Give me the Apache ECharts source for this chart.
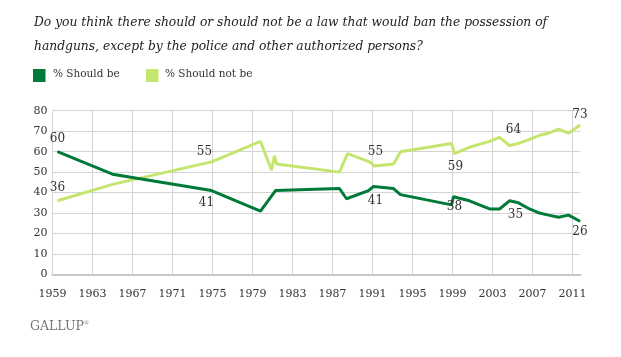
<!DOCTYPE html>
<html>
<head>
<meta charset="utf-8">
<script src="https://cdn.jsdelivr.net/npm/echarts@6/dist/echarts.min.js"></script>
<style>
html,body{margin:0;padding:0;background:#fff;}
#chart{width:621px;height:357px;}
</style>
</head>
<body>
<div id="chart"></div>
<script>
const titleLines = [
  "Do you think there should or should not be a law that would ban the possession of",
  "handguns, except by the police and other authorized persons?"
];
const seriesNames = ["% Should be", "% Should not be"];
const xTicks = [1959, 1963, 1967, 1971, 1975, 1979, 1983, 1987, 1991, 1995, 1999, 2003, 2007, 2011];
const yTicks = [0, 10, 20, 30, 40, 50, 60, 70, 80];

const shouldYears = [1959.5, 1965.0, 1974.9, 1979.8, 1981.3, 1987.7, 1988.4, 1990.6, 1991.1, 1993.1, 1993.8, 1998.9, 1999.1, 2000.7, 2002.7, 2003.7, 2004.7, 2005.6, 2006.7, 2007.7, 2008.6, 2009.6, 2010.6, 2011.75];
const shouldValues = [60, 49, 41, 31, 41, 42, 37, 41, 43, 42, 39, 34, 38, 36, 32, 32, 36, 35, 32, 30, 29, 28, 29, 26];

const shouldNotYears = [1959.5, 1965.0, 1974.9, 1979.8, 1980.9, 1981.2, 1981.4, 1987.7, 1988.5, 1990.7, 1991.2, 1993.1, 1993.8, 1998.9, 1999.2, 2000.6, 2002.7, 2003.7, 2004.7, 2005.6, 2006.7, 2007.7, 2008.6, 2009.6, 2010.6, 2011.75];
const shouldNotValues = [36, 44, 55, 65, 51, 58, 54, 50, 59, 55, 53, 54, 60, 64, 59, 62, 65, 67, 63, 64, 66, 68, 69, 71, 69, 73];

// labelled points: index -> [position, offsetX, offsetY]
const shouldLabels = {0: ['top', 0, -2], 2: ['bottom', -5, 2], 7: ['bottom', 7, 0], 12: ['bottom', 1, 0], 17: ['bottom', -3, 2], 23: ['bottom', 0, 0]};
const shouldNotLabels = {0: ['top', 0, -2], 2: ['top', -7, 0], 9: ['top', 6, 0], 14: ['bottom', 1, 3], 19: ['top', -5, -3], 25: ['top', 0, 0]};

const DARK = '#007A38';
const LIGHT = '#C4E56E';
const SERIF = '"DejaVu Serif", "Liberation Serif", serif';

function build(years, values, labels) {
  return years.map((y, i) => {
    const item = {value: [y, values[i]]};
    if (labels[i]) {
      const l = labels[i];
      item.label = {show: true, position: l[0], offset: [l[1], l[2]]};
    }
    return item;
  });
}

const chart = echarts.init(document.getElementById('chart'), null, {renderer: 'canvas'});
chart.setOption({
  animation: false,
  backgroundColor: '#fff',
  graphic: [
    {type: 'text', left: 34, top: 17, style: {text: titleLines[0], font: 'italic 12.3px ' + SERIF, fill: '#222'}},
    {type: 'text', left: 34, top: 41, style: {text: titleLines[1], font: 'italic 12.3px ' + SERIF, fill: '#222'}},
    {type: 'rect', shape: {x: 33, y: 69, width: 12.5, height: 13}, style: {fill: DARK}},
    {type: 'text', left: 53, top: 69, style: {text: seriesNames[0], font: '10.5px ' + SERIF, fill: '#333'}},
    {type: 'rect', shape: {x: 146, y: 69, width: 12.5, height: 13}, style: {fill: LIGHT}},
    {type: 'text', left: 165, top: 69, style: {text: seriesNames[1], font: '10.5px ' + SERIF, fill: '#333'}},
    {type: 'text', left: 30, top: 320, style: {text: 'GALLUP', font: '12.5px ' + SERIF, fill: '#777'}},
    {type: 'text', left: 84, top: 320, style: {text: '\u00ae', font: '5px ' + SERIF, fill: '#777'}}
  ],
  grid: {left: 52.5, right: 40.5, top: 110.7, bottom: 82.5, containLabel: false},
  xAxis: {
    type: 'value',
    min: xTicks[0],
    max: 2011.8,
    interval: 4,
    axisLine: {show: true, lineStyle: {color: '#c8c8c8', width: 2}},
    axisTick: {show: false},
    axisLabel: {
      margin: 14,
      fontFamily: SERIF, fontSize: 11, color: '#333',
      formatter: v => (xTicks.indexOf(v) >= 0 ? String(v) : '')
    },
    splitLine: {show: true, showMaxLine: false, lineStyle: {color: '#d4d4d4', width: 1}}
  },
  yAxis: {
    type: 'value',
    min: yTicks[0],
    max: yTicks[yTicks.length - 1],
    interval: 10,
    axisLine: {show: false},
    axisTick: {show: false},
    axisLabel: {margin: 5, fontFamily: SERIF, fontSize: 11, color: '#333'},
    splitLine: {show: true, lineStyle: {color: '#d4d4d4', width: 1}}
  },
  series: [
    {
      name: seriesNames[0], type: 'line', showSymbol: true, symbol: 'circle', symbolSize: 1,
      lineStyle: {color: DARK, width: 3}, itemStyle: {color: DARK},
      label: {show: false, fontFamily: SERIF, fontSize: 12, color: '#333', distance: 4, formatter: p => p.value[1]},
      emphasis: {disabled: true},
      data: build(shouldYears, shouldValues, shouldLabels), z: 3
    },
    {
      name: seriesNames[1], type: 'line', showSymbol: true, symbol: 'circle', symbolSize: 1,
      lineStyle: {color: LIGHT, width: 3}, itemStyle: {color: LIGHT},
      label: {show: false, fontFamily: SERIF, fontSize: 12, color: '#333', distance: 4, formatter: p => p.value[1]},
      emphasis: {disabled: true},
      data: build(shouldNotYears, shouldNotValues, shouldNotLabels), z: 2
    }
  ]
});
</script>
</body>
</html>
